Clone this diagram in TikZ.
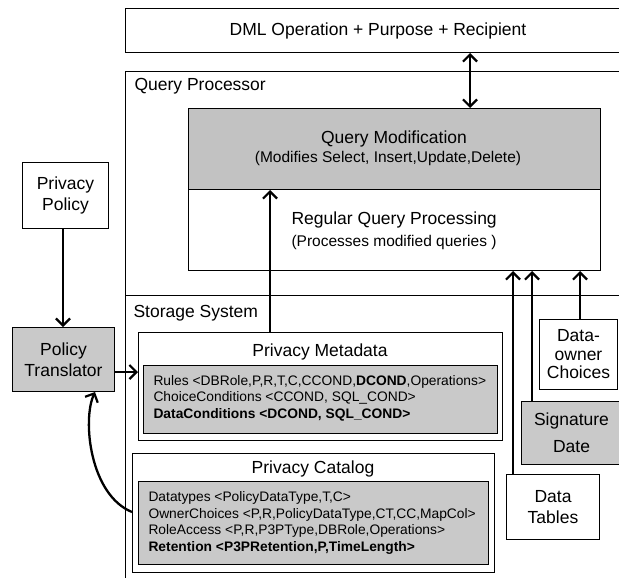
\documentclass[tikz,border=0pt]{standalone}
\usepackage{fontspec}
\setmainfont{Liberation Sans}
\usetikzlibrary{arrows.meta}
\begin{document}
\begin{tikzpicture}[x=1pt,y=-1pt,
  box/.style={draw, line width=1pt, inner sep=0pt, anchor=north west},
  shaded/.style={fill=gray!42},
  darkshaded/.style={fill=gray!48},
  big/.style={font=\fontsize{17.5}{21}\selectfont},
  sub/.style={font=\fontsize{15.5}{18}\selectfont},
  small/.style={font=\fontsize{13.8}{16.6}\selectfont},
  arr/.style={line width=2.3pt, -{Straight Barb[length=7pt,width=14pt,line width=2.2pt]}},
  dbl/.style={line width=2.3pt, {Straight Barb[length=7pt,width=14pt,line width=2.2pt]}-{Straight Barb[length=7pt,width=14pt,line width=2.2pt]}},
]
\useasboundingbox (0,0) rectangle (619,578);
\clip (0,0) rectangle (619,578);

% outer frames
\node[box, minimum width=505, minimum height=44, big] (dml) at (125,8) {DML Operation + Purpose + Recipient};
\node[box, line width=0.8pt, minimum width=520, minimum height=540] (qp) at (125,71) {};
\node[anchor=west, big] (qplabel) at (131,86) {Query Processor};
\node[box, line width=0.8pt, minimum width=520, minimum height=300] (ss) at (125,295) {};
\node[anchor=west, big] (sslabel) at (130,313) {Storage System};

% query processor boxes
\node[box, darkshaded, minimum width=412, minimum height=81] (qm) at (188,108) {};
\node[big] (qmt) at (394,139) {Query Modification};
\node[sub] (qms) at (388,158) {(Modifies Select, Insert,Update,Delete)};
\node[box, minimum width=412, minimum height=81] (rqp) at (188,189) {};
\node[big, anchor=west] (rqpt) at (288,220) {Regular Query Processing};
\node[sub, anchor=west] (rqps) at (288,242) {(Processes modified queries )};

% privacy metadata
\node[box, minimum width=364, minimum height=108] (pm) at (138,332) {};
\node[big] (pmt) at (320,352) {Privacy Metadata};
\node[box, shaded, minimum width=354, minimum height=68] (pmi) at (143,365) {};
\node[small, anchor=west, align=left] (pmtext) at (150,398)
  {Rules <DBRole,P,R,T,C,CCOND,\textbf{DCOND},Operations>\\
   ChoiceConditions <CCOND, SQL\_COND>\\
   \textbf{DataConditions <DCOND, SQL\_COND>}};

% privacy catalog
\node[box, minimum width=362, minimum height=119] (pc) at (132,453) {};
\node[big] (pct) at (313,469) {Privacy Catalog};
\node[box, shaded, minimum width=350, minimum height=83] (pci) at (138,481) {};
\node[small, anchor=west, align=left] (pctext) at (145,523)
  {Datatypes <PolicyDataType,T,C>\\
   OwnerChoices <P,R,PolicyDataType,CT,CC,MapCol>\\
   RoleAccess <P,R,P3PType,DBRole,Operations>\\
   \textbf{Retention <P3PRetention,P,TimeLength>}};

% right side boxes
\node[box, minimum width=78, minimum height=70, align=center, font=\fontsize{17.5}{18.5}\selectfont] (doc) at (539,319) {Data-\\owner\\Choices};
\node[box, shaded, minimum width=100, minimum height=63, align=center, font=\fontsize{17.5}{27}\selectfont] (sd) at (521,401) {Signature\\Date};
\node[box, minimum width=93, minimum height=65, align=center, font=\fontsize{17.5}{21.5}\selectfont] (dt) at (506,474) {Data\\Tables};

% left boxes
\node[box, minimum width=86, minimum height=66, align=center, font=\fontsize{17.5}{21.5}\selectfont] (pp) at (22,162) {Privacy\\Policy};
\node[box, shaded, minimum width=102, minimum height=64, align=center, font=\fontsize{17.5}{21}\selectfont] (pt) at (12,327) {Policy\\Translator};

% helper coordinates
\coordinate (x470) at (470,0);
\coordinate (x270) at (270,0);
\coordinate (x513) at (513,0);
\coordinate (x532) at (532,0);
\coordinate (x580) at (580,0);
\coordinate (x63) at (63,0);
\coordinate (x95) at (95,0);
\coordinate (y372) at (0,372);
\coordinate (y512) at (0,512);

% connectors
\draw[dbl] (dml.south -| x470) -- (qm.north -| x470);
\draw[arr] (pm.north -| x270) -- (qm.south -| x270);
\draw[arr] (dt.north -| x513) -- (rqp.south -| x513);
\draw[arr] (sd.north -| x532) -- (rqp.south -| x532);
\draw[arr] (doc.north -| x580) -- (rqp.south -| x580);
\draw[arr] (pp.south -| x63) -- (pt.north -| x63);
\draw[arr] (pt.east |- y372) -- (pm.west |- y372);
\draw[arr] (pc.west |- y512) .. controls (90,495) and (82,420) .. (pt.south -| x95);
\end{tikzpicture}
\end{document}
